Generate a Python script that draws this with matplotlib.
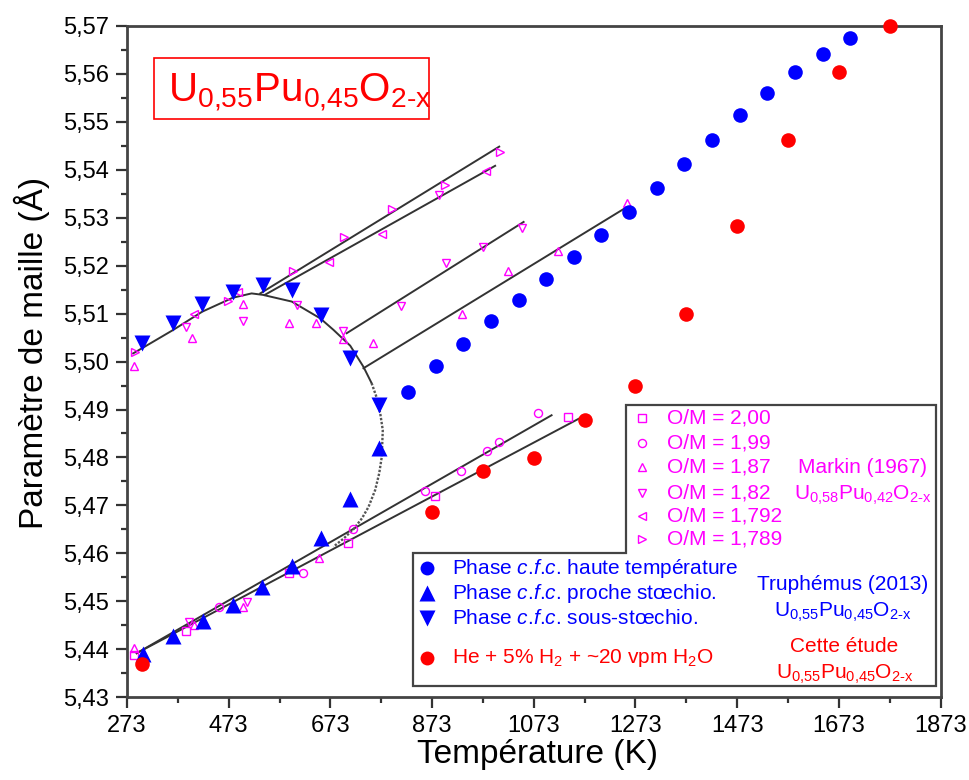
import matplotlib
matplotlib.use('Agg')
import matplotlib.pyplot as plt
from matplotlib.ticker import FixedLocator, FuncFormatter
from matplotlib.patches import Polygon, Rectangle

plt.rcParams['font.family'] = ['Liberation Sans', 'DejaVu Sans']
plt.rcParams['mathtext.fontset'] = 'custom'
plt.rcParams['mathtext.rm'] = 'Liberation Sans'
plt.rcParams['mathtext.it'] = 'Liberation Sans:italic'
plt.rcParams['mathtext.bf'] = 'Liberation Sans:bold'
plt.rcParams['mathtext.sf'] = 'Liberation Sans'

# ---------------- data ----------------
# Truphémus (2013) U0.55Pu0.45O2-x
truph_ht_T = [826, 880, 934, 989, 1043, 1097, 1152, 1206, 1260, 1315, 1369, 1423, 1478, 1532, 1586, 1641, 1695]
truph_ht_a = [5.4937, 5.4991, 5.5037, 5.5084, 5.5128, 5.5173, 5.5218, 5.5264, 5.5312, 5.5362,
              5.5412, 5.5462, 5.5514, 5.5560, 5.5604, 5.5641, 5.5674]
truph_near_T = [305, 364, 423, 482, 539, 598, 655, 712, 769]
truph_near_a = [5.4390, 5.4428, 5.4459, 5.4492, 5.4530, 5.4574, 5.4632, 5.4713, 5.4819]
truph_sub_T = [303, 364, 421, 482, 541, 598, 655, 712, 769]
truph_sub_a = [5.5039, 5.5080, 5.5120, 5.5145, 5.5159, 5.5149, 5.5097, 5.5007, 5.4909]

# Cette étude
this_T = [303, 873, 973, 1073, 1173, 1273, 1373, 1473, 1573, 1673, 1773]
this_a = [5.4370, 5.4686, 5.4772, 5.4799, 5.4878, 5.4949, 5.5099, 5.5283, 5.5462, 5.5604, 5.5699]

# Markin (1967) U0.58Pu0.42O2-x
om200_T = [287, 389, 592, 708, 879, 1140]
om200_a = [5.4388, 5.4438, 5.4560, 5.4621, 5.4720, 5.4884]
om199_T = [454, 620, 718, 859, 929, 981, 1005, 1081]
om199_a = [5.4488, 5.4560, 5.4650, 5.4730, 5.4772, 5.4814, 5.4832, 5.4892]
om187_T = [287, 405, 502, 651, 287, 400, 501, 592, 645, 698, 756, 931, 1023, 1120, 1256]
om187_a = [5.4402, 5.4451, 5.4489, 5.4591, 5.4991, 5.5050, 5.5120, 5.5080, 5.5080, 5.5046,
           5.5039, 5.5100, 5.5189, 5.5231, 5.5331]
om182_T = [394, 508, 389, 502, 608, 698, 812, 887, 901, 973, 1050]
om182_a = [5.4456, 5.4499, 5.5073, 5.5085, 5.5118, 5.5063, 5.5116, 5.5347, 5.5205, 5.5239, 5.5278]
om1792_T = [405, 491, 670, 774, 979]
om1792_a = [5.5100, 5.5144, 5.5208, 5.5266, 5.5398]
om1789_T = [289, 472, 599, 699, 794, 899, 1007]
om1789_a = [5.5019, 5.5127, 5.5189, 5.5259, 5.5319, 5.5369, 5.5437]

# guide lines (fits)
fit_lines_T = [[535, 1005], [544, 997], [705, 1053], [738, 1256], [292, 1108], [292, 1169]]
fit_lines_a = [[5.5142, 5.5448], [5.5139, 5.5408], [5.5059, 5.5291], [5.4986, 5.5322],
               [5.4392, 5.4888], [5.4392, 5.4885]]
arc_T = [285, 303, 364, 421, 481, 518, 540, 597, 653, 679, 712, 738, 754]
arc_a = [5.5017, 5.5028, 5.5066, 5.5104, 5.5133, 5.5142, 5.5139, 5.5125, 5.5090, 5.5066,
         5.5033, 5.4989, 5.4955]
dot_T = [754, 764, 771, 776, 774, 769, 761, 748, 735, 718, 699, 679]
dot_a = [5.4955, 5.4925, 5.4892, 5.4857, 5.4801, 5.4767, 5.4732, 5.4697, 5.4673, 5.4650,
         5.4631, 5.4614]

x_ticks = [273, 473, 673, 873, 1073, 1273, 1473, 1673, 1873]
x_minor = [373, 573, 773, 973, 1173, 1373, 1573, 1773]
y_ticks = [5.43, 5.44, 5.45, 5.46, 5.47, 5.48, 5.49, 5.50, 5.51, 5.52, 5.53, 5.54, 5.55, 5.56, 5.57]
y_minor = [5.435, 5.445, 5.455, 5.465, 5.475, 5.485, 5.495, 5.505, 5.515, 5.525, 5.535,
           5.545, 5.555, 5.565]

markin_labels = ['O/M = 2,00', 'O/M = 1,99', 'O/M = 1,87', 'O/M = 1,82', 'O/M = 1,792', 'O/M = 1,789']
truph_labels = [r'Phase $\mathit{c}\text{.}\mathit{f}\text{.}\mathit{c}\text{.}$ haute température',
                r'Phase $\mathit{c}\text{.}\mathit{f}\text{.}\mathit{c}\text{.}$ proche stœchio.',
                r'Phase $\mathit{c}\text{.}\mathit{f}\text{.}\mathit{c}\text{.}$ sous-stœchio.']
this_label = r'He + 5% H$_{\text{2}}$ + ~20 vpm H$_{\text{2}}$O'

BLUE = '#0000ff'
RED = '#ff0000'
MAG = '#ff00ff'
DARK = '#333333'

fig = plt.figure(figsize=(9.69, 7.8), dpi=100)
ax = fig.add_axes([0.1311, 0.1060, 0.8395, 0.8610])
ax.set_xlim(273, 1873)
ax.set_ylim(5.43, 5.57)

# guide lines
for T, a in zip(fit_lines_T, fit_lines_a):
    ax.plot(T, a, color=DARK, lw=1.4, zorder=2)
ax.plot(arc_T, arc_a, color=DARK, lw=1.4, zorder=2)
ax.plot(dot_T, dot_a, color='#555555', lw=1.7, ls=(0, (1, 0.7)), zorder=2)

# Markin open markers
markin = [(om200_T, om200_a, 's'), (om199_T, om199_a, 'o'), (om187_T, om187_a, '^'),
          (om182_T, om182_a, 'v'), (om1792_T, om1792_a, '<'), (om1789_T, om1789_a, '>')]
for T, a, m in markin:
    ax.plot(T, a, ls='none', marker=m, ms=5.8, mfc='none', mec=MAG, mew=1.0, zorder=3)

# Truphémus
ax.plot(truph_ht_T, truph_ht_a, ls='none', marker='o', ms=10.5, color=BLUE, mec='none', zorder=4)
ax.plot(truph_near_T, truph_near_a, ls='none', marker='^', ms=11, color=BLUE, mec='none', zorder=4)
ax.plot(truph_sub_T, truph_sub_a, ls='none', marker='v', ms=11, color=BLUE, mec='none', zorder=4)
# this study
ax.plot(this_T, this_a, ls='none', marker='o', ms=10.5, color=RED, mec='none', zorder=5, clip_on=False)

# axes styling
ax.xaxis.set_major_locator(FixedLocator(x_ticks))
ax.xaxis.set_minor_locator(FixedLocator(x_minor))
ax.yaxis.set_major_locator(FixedLocator(y_ticks))
ax.yaxis.set_minor_locator(FixedLocator(y_minor))
ax.yaxis.set_major_formatter(FuncFormatter(lambda v, p: f'{v:.2f}'.replace('.', ',')))
ax.xaxis.set_major_formatter(FuncFormatter(lambda v, p: f'{v:.0f}'))
ax.tick_params(which='major', direction='out', length=8, width=1.6, color=DARK,
               labelsize=17, pad=5, labelcolor='black')
ax.tick_params(which='minor', direction='out', length=4.5, width=1.6, color=DARK)
for s in ax.spines.values():
    s.set_linewidth(2)
    s.set_color('#444444')

fig.text(0.5552, 0.033, 'Température (K)', fontsize=24, ha='center', va='center')
fig.text(0.0327, 0.5474, 'Paramètre de maille (Å)', fontsize=24, ha='center', va='center',
         rotation=90)

# title box
ax.add_patch(Rectangle((0.0336, 0.8606), 0.3376, 0.0909, transform=ax.transAxes,
                       fill=False, ec=RED, lw=1.2, zorder=6))
ax.text(0.0508, 0.8868, r'U$_{\text{0,55}}$Pu$_{\text{0,45}}$O$_{\text{2-x}}$',
        transform=ax.transAxes, fontsize=29, color=RED, ha='left', va='baseline', zorder=7)

# legend frame (L-shaped)
frame = [(0.6134, 0.4346), (0.9945, 0.4346), (0.9945, 0.0173), (0.3521, 0.0173),
         (0.3521, 0.2153), (0.6134, 0.2153)]
ax.add_patch(Polygon(frame, closed=True, transform=ax.transAxes, fc='white', ec='#444444',
                     lw=1.6, zorder=8))

row_y = [0.4154, 0.3782, 0.3433, 0.3046, 0.2699, 0.2352]
for (T, a, m), lab, yy in zip(markin, markin_labels, row_y):
    ax.plot([0.633], [yy], transform=ax.transAxes, ls='none', marker=m, ms=5.8, mfc='none',
            mec=MAG, mew=1.0, zorder=9, clip_on=False)
    ax.text(0.6643, yy, lab, transform=ax.transAxes, fontsize=15, color=MAG, ha='left',
            va='center', zorder=9)

t_rows = [0.1921, 0.1549, 0.1176]
for m, lab, yy in zip(['o', '^', 'v'], truph_labels, t_rows):
    ax.plot([0.3688], [yy], transform=ax.transAxes, ls='none', marker=m,
            ms=10 if m == 'o' else 11, color=BLUE, mec='none', zorder=9, clip_on=False)
    ax.text(0.4, yy, lab, transform=ax.transAxes, fontsize=15, color=BLUE, ha='left',
            va='center', zorder=9)
ax.plot([0.3688], [0.0581], transform=ax.transAxes, ls='none', marker='o', ms=10, color=RED,
        mec='none', zorder=9, clip_on=False)
ax.text(0.4, 0.0581, this_label, transform=ax.transAxes, fontsize=15, color=RED, ha='left',
        va='center', zorder=9)

# source labels
ax.text(0.9045, 0.3335, 'Markin (1967)', transform=ax.transAxes, fontsize=15, color=MAG,
        ha='center', va='baseline', zorder=9)
ax.text(0.9045, 0.2939, r'U$_{\text{0,58}}$Pu$_{\text{0,42}}$O$_{\text{2-x}}$',
        transform=ax.transAxes, fontsize=15, color=MAG, ha='center', va='baseline', zorder=9)
ax.text(0.8797, 0.1598, 'Truphémus (2013)', transform=ax.transAxes, fontsize=15, color=BLUE,
        ha='center', va='baseline', zorder=9)
ax.text(0.8797, 0.1200, r'U$_{\text{0,55}}$Pu$_{\text{0,45}}$O$_{\text{2-x}}$',
        transform=ax.transAxes, fontsize=15, color=BLUE, ha='center', va='baseline', zorder=9)
ax.text(0.8819, 0.0679, 'Cette étude', transform=ax.transAxes, fontsize=15, color=RED,
        ha='center', va='baseline', zorder=9)
ax.text(0.8819, 0.0283, r'U$_{\text{0,55}}$Pu$_{\text{0,45}}$O$_{\text{2-x}}$',
        transform=ax.transAxes, fontsize=15, color=RED, ha='center', va='baseline', zorder=9)

fig.savefig('out.png', dpi=100)
